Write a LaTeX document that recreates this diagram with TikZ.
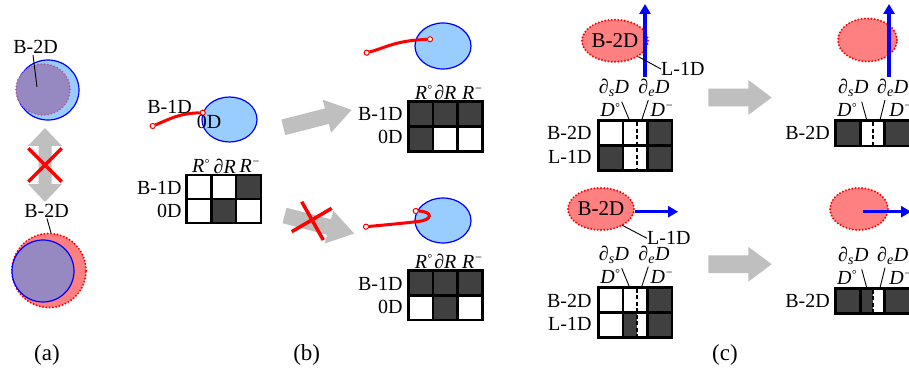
\documentclass[tikz,border=0pt]{standalone}
\usepackage{fontspec}
\setmainfont{Liberation Serif}
\usetikzlibrary{arrows.meta,shapes.geometric}
\definecolor{lblue}{RGB}{153,204,255}
\definecolor{lpurple}{RGB}{150,136,192}
\definecolor{salmon}{RGB}{255,128,128}
\definecolor{agray}{RGB}{191,191,191}
\definecolor{dcell}{RGB}{64,64,64}
\definecolor{pdot}{RGB}{175,90,150}
\newcommand\lblfont{\fontsize{20}{24}\selectfont}
\newcommand\capfont{\fontsize{23}{27}\selectfont}
\newcommand\smdeg{\raisebox{5.5pt}{\fontsize{12}{12}\selectfont °}}
\newcommand\smminus{\raisebox{7pt}{\fontsize{12}{12}\selectfont −}}
\begin{document}
\begin{tikzpicture}[x=1pt,y=-1pt,
  txt/.style={inner sep=0pt, font=\lblfont},
  captxt/.style={inner sep=0pt, font=\capfont},
  blueblob/.style={ellipse, draw=blue, fill=lblue, line width=1.2pt, inner sep=0pt},
  redblob/.style={ellipse, draw=red, fill=salmon, line width=2.2pt, line cap=round, dash pattern=on 0pt off 3.3pt, inner sep=0pt, font=\fontsize{21}{24}\selectfont},
  redcurve/.style={red, line width=3pt},
  endpt/.style={circle, draw=red, fill=white, line width=0.9pt, minimum size=5pt, inner sep=0pt},
  tabline/.style={line width=2.5pt, line join=miter},
  leader/.style={line width=0.9pt},
  cross/.style={red, line width=3.5pt},
  bluearr/.style={blue, line width=3.5pt, -{Triangle[width=11pt,length=10pt]}},
  middash/.style={line width=2pt, dash pattern=on 4pt off 2.5pt}
]
\useasboundingbox (0,0) rectangle (909,374);
\clip (0,0) rectangle (909,374);

% ================= (a) =================
\node[blueblob, minimum width=62pt, minimum height=60pt] (aB1) at (48,90) {};
\node[ellipse, fill=lpurple, draw=pdot, line width=2pt, line cap=round, dash pattern=on 0pt off 3.3pt, minimum width=54pt, minimum height=51pt, inner sep=0pt] (aP1) at (43,89.5) {};
\node[txt] (aL1) at (35.5,47) {B-2D};
\coordinate (aL1e) at (37,87);
\draw[leader] (33,55) -- (aL1e);

\fill[agray] (45,128) -- (62,146) -- (51.5,146) -- (51.5,184) -- (62,184) -- (45,202) -- (28,184) -- (38.5,184) -- (38.5,146) -- (28,146) -- cycle;
\draw[cross] (28.3,148.3) -- (61.7,181.7) (28.3,181.7) -- (61.7,148.3);

\node[txt] (aL2) at (46.5,211) {B-2D};
\draw[leader] (47,218.5) -- (51,233);
\node[redblob, minimum width=74pt, minimum height=74pt] (aR2) at (49,270.5) {};
\node[ellipse, fill=lpurple, draw=blue, line width=1.2pt, minimum width=62pt, minimum height=62pt, inner sep=0pt] (aP2) at (43,271) {};

\node[captxt] (capa) at (47,355) {(a)};

% ================= (b) =================
\node[blueblob, minimum width=55pt, minimum height=45pt] (bE0) at (229.5,119.5) {};
\node[endpt] (bS0) at (152.7,126) {};
\node[endpt] (bT0) at (202.7,112.7) {};
\draw[redcurve] (bS0) .. controls (170,119) and (178,113.5) .. (bT0);
\node[endpt] at (bS0) {};
\node[endpt] at (bT0) {};
\node[txt] (bL0) at (169.5,107) {B-1D};
\node[txt] (bO0) at (209,122) {0D};

\begin{scope}[shift={(186.7,175)}]
  \fill[dcell] (49.4,0) rectangle (74.1,24);
  \fill[dcell] (24.7,24) rectangle (49.4,48);
  \draw[tabline] (0,0) rectangle (74.1,48) (24.7,0) -- (24.7,48) (49.4,0) -- (49.4,48) (0,24) -- (74.1,24);
  \node[txt] at (14,-9) {\itshape R\smdeg};
  \node[txt] at (38,-9) {\itshape ∂R};
  \node[txt] at (63,-9) {\itshape R\smminus};
  \node[txt, anchor=east] at (-5,12.7) {B-1D};
  \node[txt, anchor=east] at (-5,36) {0D};
\end{scope}

\begin{scope}[shift={(283.3,127.3)}, rotate=14.3]
  \fill[agray] (0,-8) -- (45,-8) -- (45,-17) -- (70.5,0) -- (45,17) -- (45,8) -- (0,8) -- cycle;
\end{scope}
\node[blueblob, minimum width=56pt, minimum height=46pt] (bE1) at (443,46) {};
\node[endpt] (bS1) at (366.7,52.7) {};
\node[endpt] (bT1) at (430,39.3) {};
\draw[redcurve] (bS1) .. controls (385,48) and (395,40.5) .. (bT1);
\node[endpt] at (bS1) {};
\node[endpt] at (bT1) {};

\begin{scope}[shift={(408.3,101.7)}]
  \fill[dcell] (0,0) rectangle (74.1,25);
  \fill[dcell] (0,25) rectangle (24.7,50);
  \draw[tabline] (0,0) rectangle (74.1,50) (24.7,0) -- (24.7,50) (49.4,0) -- (49.4,50) (0,25) -- (74.1,25);
  \node[txt] at (15,-9) {\itshape R\smdeg};
  \node[txt] at (37,-9) {\itshape ∂R};
  \node[txt] at (64,-9) {\itshape R\smminus};
  \node[txt, anchor=east] at (-5.6,12.3) {B-1D};
  \node[txt, anchor=east] at (-5.6,35.6) {0D};
\end{scope}

\begin{scope}[shift={(284.5,215.5)}, rotate=-14.5]
  \fill[agray] (0,-8) -- (46,-8) -- (46,-17) -- (72,0) -- (46,17) -- (46,8) -- (0,8) -- cycle;
\end{scope}
\draw[cross] (291.7,231.7) -- (331.7,208.3) (301.7,201.7) -- (323.3,240);
\node[blueblob, minimum width=56pt, minimum height=45pt] (bE2) at (443,220.5) {};
\node[endpt] (bS2) at (366,226.7) {};
\node[endpt] (bT2) at (415.7,211) {};
\draw[redcurve] (bS2) .. controls (390,224.5) and (405,223) .. (418,221.5) .. controls (433,220) and (433,211.5) .. (bT2);
\node[endpt] at (bS2) {};
\node[endpt] at (bT2) {};

\begin{scope}[shift={(408.3,270.7)}]
  \fill[dcell] (0,0) rectangle (74.1,24.7);
  \fill[dcell] (24.7,24.7) rectangle (49.4,49.4);
  \draw[tabline] (0,0) rectangle (74.1,49.4) (24.7,0) -- (24.7,49.4) (49.4,0) -- (49.4,49.4) (0,24.7) -- (74.1,24.7);
  \node[txt] at (15,-9) {\itshape R\smdeg};
  \node[txt] at (37,-9) {\itshape ∂R};
  \node[txt] at (64,-9) {\itshape R\smminus};
  \node[txt, anchor=east] at (-5.6,13.3) {B-1D};
  \node[txt, anchor=east] at (-5.6,36) {0D};
\end{scope}

\node[captxt] (capb) at (306.7,355) {(b)};

% ================= (c) =================
\node[redblob, minimum width=57pt, minimum height=42pt] (cE1) at (615,40.8) {B-2D};
\coordinate (cA1s) at (645,76.7);
\coordinate (cA1t) at (645,4);
\draw[bluearr] (cA1s) -- (cA1t);
\node[txt, anchor=west] (cL1) at (661,69) {L-1D};
\draw[leader] (638.3,56.7) -- (cL1.west);

\begin{scope}[shift={(598.3,120.7)}]
  \fill[dcell] (49,0) rectangle (73.5,25);
  \fill[dcell] (0,25) rectangle (24.5,50);
  \fill[dcell] (49,25) rectangle (73.5,50);
  \draw[tabline] (0,0) rectangle (73.5,50) (24.5,0) -- (24.5,50) (49,0) -- (49,50) (0,25) -- (73.5,25);
  \draw[middash] (38.4,1.5) -- (38.4,48.5);
  \node[txt] at (15.7,-32.4) {\itshape ∂\textsubscript{s}D};
  \node[txt] at (55.7,-32.4) {\itshape ∂\textsubscript{e}D};
  \node[txt] at (11.7,-10.7) {\itshape D\smdeg};
  \node[txt] at (63.7,-10.7) {\itshape D\smminus};
  \draw[leader] (23.4,-19) -- (31,-0.7);
  \draw[leader] (50,-20.7) -- (43.4,-0.7);
  \node[txt, anchor=east] at (-6.6,12.6) {B-2D};
  \node[txt, anchor=east] at (-6.6,36) {L-1D};
\end{scope}

\fill[agray] (708.3,88.7) -- (748.3,88.7) -- (748.3,80) -- (771.7,97.5) -- (748.3,115) -- (748.3,106.3) -- (708.3,106.3) -- cycle;

\node[redblob, minimum width=59pt, minimum height=43pt] (cE2) at (867.5,40) {};
\coordinate (cA2s) at (889,76.7);
\coordinate (cA2t) at (889,4);
\draw[bluearr] (cA2s) -- (cA2t);
\begin{scope}[shift={(835.7,120.7)}]
  \fill[dcell] (0,0) rectangle (25,25.5);
  \fill[dcell] (48.6,0) rectangle (80,25.5);
  \draw[tabline] (0,0) rectangle (80,25.5) (25,0) -- (25,25.5) (48.6,0) -- (48.6,25.5);
  \draw[middash] (37.6,1.5) -- (37.6,24);
  \node[txt] at (17.6,-32.4) {\itshape ∂\textsubscript{s}D};
  \node[txt] at (57,-32.4) {\itshape ∂\textsubscript{e}D};
  \node[txt] at (11,-10.7) {\itshape D\smdeg};
  \node[txt] at (65,-10.7) {\itshape D\smminus};
  \draw[leader] (26,-19) -- (31,-0.7);
  \draw[leader] (49.3,-20.7) -- (44.3,-0.7);
  \node[txt, anchor=east] at (-5.7,12.6) {B-2D};
\end{scope}

\node[redblob, minimum width=58pt, minimum height=42pt] (cE3) at (601,209) {B-2D};
\coordinate (cA3t) at (678,211.7);
\draw[bluearr] (cE3.east) ++(0,2.7) coordinate (cA3s) (cA3s) -- (cA3t);
\node[txt, anchor=west] (cL3) at (647,238.3) {L-1D};
\draw[leader] (621.7,225) -- (cL3.west);

\begin{scope}[shift={(598.3,287.3)}]
  \fill[dcell] (49,0) rectangle (73.5,25);
  \fill[dcell] (24.5,25) rectangle (38.4,50);
  \fill[dcell] (49,25) rectangle (73.5,50);
  \draw[tabline] (0,0) rectangle (73.5,50) (24.5,0) -- (24.5,50) (49,0) -- (49,50) (0,25) -- (73.5,25);
  \draw[middash] (38.4,1.5) -- (38.4,48.5);
  \node[txt] at (15.7,-32.4) {\itshape ∂\textsubscript{s}D};
  \node[txt] at (55.7,-32.4) {\itshape ∂\textsubscript{e}D};
  \node[txt] at (11.7,-10.7) {\itshape D\smdeg};
  \node[txt] at (63.7,-10.7) {\itshape D\smminus};
  \draw[leader] (23.4,-19) -- (31,-0.7);
  \draw[leader] (50,-20.7) -- (43.4,-0.7);
  \node[txt, anchor=east] at (-6.6,13.4) {B-2D};
  \node[txt, anchor=east] at (-6.6,36.7) {L-1D};
\end{scope}

\fill[agray] (708.3,255.4) -- (748.3,255.4) -- (748.3,246.7) -- (771.7,264.2) -- (748.3,281.7) -- (748.3,273) -- (708.3,273) -- cycle;

\node[redblob, minimum width=58pt, minimum height=42pt] (cE4) at (859,209) {};
\coordinate (cA4s) at (863.3,211.7);
\coordinate (cA4t) at (911,211.7);
\draw[bluearr] (cA4s) -- (cA4t);
\begin{scope}[shift={(835.7,288.3)}]
  \fill[dcell] (0,0) rectangle (37.6,25);
  \fill[dcell] (48.6,0) rectangle (80,25);
  \draw[tabline] (0,0) rectangle (80,25) (25,0) -- (25,25) (48.6,0) -- (48.6,25);
  \draw[middash] (37.6,1.5) -- (37.6,23.5);
  \node[txt] at (17.6,-32.4) {\itshape ∂\textsubscript{s}D};
  \node[txt] at (57,-32.4) {\itshape ∂\textsubscript{e}D};
  \node[txt] at (11,-10.7) {\itshape D\smdeg};
  \node[txt] at (65,-10.7) {\itshape D\smminus};
  \draw[leader] (26,-19) -- (31,-0.7);
  \draw[leader] (49.3,-20.7) -- (44.3,-0.7);
  \node[txt, anchor=east] at (-5.7,12.4) {B-2D};
\end{scope}

\node[captxt] (capc) at (725,355) {(c)};
\end{tikzpicture}
\end{document}
